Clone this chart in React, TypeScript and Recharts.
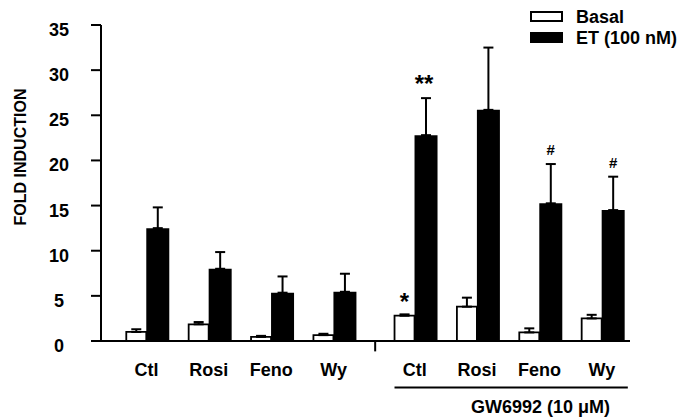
import React from 'react';
import {
  BarChart, Bar, XAxis, YAxis, ErrorBar, LabelList, Legend, ReferenceLine, ReferenceDot,
} from 'recharts';

const categories = ['Ctl', 'Rosi', 'Feno', 'Wy', 'Ctl', 'Rosi', 'Feno', 'Wy'];
const basalValues = [1.0, 1.85, 0.45, 0.65, 2.8, 3.8, 0.95, 2.5];
const basalErrors = [0.3, 0.25, 0.12, 0.15, 0.15, 1.0, 0.45, 0.4];
const etValues = [12.5, 8.0, 5.35, 5.45, 22.8, 25.6, 15.25, 14.5];
const etErrors = [2.3, 1.85, 1.8, 2.0, 4.1, 6.9, 4.35, 3.7];
const basalMarks = ['', '', '', '', '*', '', '', ''];
const etMarks = ['', '', '', '', '**', '', '#', '#'];
const yTicks = [0, 5, 10, 15, 20, 25, 30, 35];
const seriesNames = ['Basal', 'ET (100 nM)'];
const groupLabel = 'GW6992 (10 \u03bcM)';
const yLabel = 'FOLD INDUCTION';

const FONT = '"Liberation Sans", Arial, Helvetica, sans-serif';
const GROUP_GAP = 0.3;
const xPos = (i: number) => i + (i >= 4 ? GROUP_GAP : 0);
const positions = categories.map((_, i) => xPos(i));
const separatorX = (xPos(3) + xPos(4)) / 2;

const data = categories.map((c, i) => ({
  x: xPos(i),
  cat: c,
  basal: basalValues[i],
  basalErr: [0, basalErrors[i]],
  basalTag: basalMarks[i] ? `${basalMarks[i]}|${basalValues[i]}|${basalErrors[i]}` : '',
  et: etValues[i],
  etErr: [0, etErrors[i]],
  etTag: etMarks[i] ? `${etMarks[i]}|${etValues[i]}|${etErrors[i]}` : '',
}));

const XTick = (props: any) => {
  const { x, y, payload } = props;
  const idx = positions.findIndex((p) => Math.abs(p - payload.value) < 1e-6);
  if (idx < 0) return null;
  return (
    <text x={x - 1} y={y + 27} textAnchor="middle" fontFamily={FONT} fontWeight="bold" fontSize={18} fill="#000">
      {categories[idx]}
    </text>
  );
};

const YTick = (props: any) => {
  const { y, payload } = props;
  return (
    <text x={59} y={y + 11} textAnchor="middle" fontFamily={FONT} fontWeight="bold" fontSize={18} fill="#000">
      {payload.value}
    </text>
  );
};

const MarkLabel = (props: any) => {
  const raw = props.value;
  if (!raw) return null;
  const vb = props.viewBox || props;
  const x = vb.x ?? props.x;
  const y = vb.y ?? props.y;
  const width = vb.width ?? props.width;
  const height = vb.height ?? props.height;
  const [mark, vStr, eStr] = String(raw).split('|');
  const v = parseFloat(vStr);
  const e = parseFloat(eStr);
  const pxPer = Math.abs(height) / v;
  const capY = y - e * pxPer;
  const isHash = mark.indexOf('#') >= 0;
  const dy = isHash ? -9 : mark.length > 1 ? -6 : -4;
  return (
    <text
      x={x + width / 2 - (mark.length > 1 ? 2 : 0)}
      y={capY + dy}
      textAnchor="middle"
      fontFamily={FONT}
      fontWeight="bold"
      fontSize={isHash ? 15 : 24}
      fill="#000"
    >
      {mark}
    </text>
  );
};

const LegendContent = () => (
  <svg width={161} height={50} style={{ display: 'block' }}>
    <rect x={11} y={12} width={31} height={9} fill="#fff" stroke="#000" strokeWidth={2} />
    <text x={56} y={23} fontFamily={FONT} fontWeight="bold" fontSize={18} fill="#000">{seriesNames[0]}</text>
    <rect x={10} y={32} width={33} height={11} fill="#000" />
    <text x={56} y={44} fontFamily={FONT} fontWeight="bold" fontSize={18} fill="#000">{seriesNames[1]}</text>
  </svg>
);

const GroupText = (props: any) => {
  const vb = props.viewBox || {};
  const cx = (vb.x ?? 0) + (vb.width ?? 0) / 2;
  const cy = (vb.y ?? 0) + (vb.height ?? 0) / 2;
  return (
    <text x={cx} y={cy + 26} textAnchor="middle" fontFamily={FONT} fontWeight="bold" fontSize={18} fill="#000">
      {groupLabel}
    </text>
  );
};

export default function App() {
  return (
    <div style={{ position: 'absolute', left: 0, top: 0, width: 681, height: 419, background: '#fff' }}>
      <BarChart
        width={681}
        height={419}
        data={data}
        margin={{ top: 25, right: 51, bottom: 18, left: 0 }}
        barGap={0}
      >
        <XAxis
          type="number"
          dataKey="x"
          domain={[-0.745, 7.735]}
          ticks={positions}
          interval={0}
          allowDataOverflow
          axisLine={{ stroke: '#000', strokeWidth: 2 }}
          tickLine={false}
          tick={<XTick />}
          height={60}
        />
        <YAxis
          type="number"
          domain={[0, 35]}
          ticks={yTicks}
          interval={0}
          width={101}
          axisLine={{ stroke: '#000', strokeWidth: 2 }}
          tickLine={{ stroke: '#000', strokeWidth: 2 }}
          tickSize={10}
          tick={<YTick />}
          label={{
            content: () => (
              <text
                transform="translate(20,157) rotate(-90)"
                textAnchor="middle"
                dominantBaseline="central"
                fontFamily={FONT}
                fontWeight="bold"
                fontSize={16}
                fill="#000"
              >
                {yLabel}
              </text>
            ),
          }}
        />
        <Legend
          layout="vertical"
          align="center"
          verticalAlign="middle"
          content={<LegendContent />}
          wrapperStyle={{ position: 'absolute', left: 520, top: 0, width: 161, height: 50 }}
        />
        <Bar dataKey="basal" name={seriesNames[0]} barSize={20} fill="#fff" stroke="#000" strokeWidth={1.8} isAnimationActive={false}>
          <ErrorBar dataKey="basalErr" width={5} stroke="#000" strokeWidth={2} direction="y" />
          <LabelList dataKey="basalTag" content={<MarkLabel />} />
        </Bar>
        <Bar dataKey="et" name={seriesNames[1]} barSize={23} fill="#000" isAnimationActive={false}>
          <ErrorBar dataKey="etErr" width={5} stroke="#000" strokeWidth={2} direction="y" />
          <LabelList dataKey="etTag" content={<MarkLabel />} />
        </Bar>
        <ReferenceLine
          segment={[{ x: separatorX, y: 0 }, { x: separatorX, y: -1.15 }]}
          stroke="#000"
          strokeWidth={2}
          ifOverflow="visible"
        />
        <ReferenceLine
          segment={[{ x: 3.96, y: -5.15 }, { x: 7.7, y: -5.15 }]}
          stroke="#000"
          strokeWidth={2}
          ifOverflow="visible"
        />
        <ReferenceDot
          x={xPos(6)}
          y={-5.15}
          r={0}
          fill="none"
          stroke="none"
          ifOverflow="visible"
          label={<GroupText />}
        />
      </BarChart>
    </div>
  );
}
